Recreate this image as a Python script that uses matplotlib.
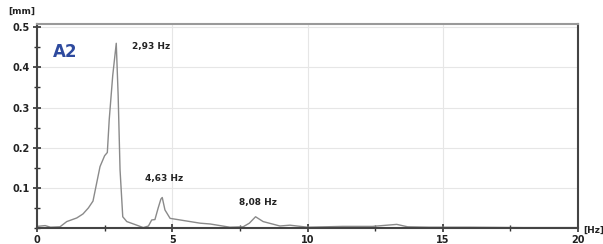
import matplotlib.pyplot as plt
from matplotlib.ticker import MultipleLocator

# spectrum (frequency in Hz, amplitude in mm)
freq = [0.0, 0.15, 0.3, 0.5, 0.85, 1.1, 1.47, 1.7, 1.9, 2.07, 2.2, 2.33, 2.5,
        2.6, 2.67, 2.8, 2.93, 3.0, 3.07, 3.17, 3.32, 3.69, 3.93, 4.12, 4.24,
        4.36, 4.48, 4.58, 4.63, 4.73, 4.92, 5.29, 6.03, 6.4, 7.13, 7.62, 7.85,
        8.08, 8.36, 8.98, 9.35, 10.0, 11.3, 12.4, 13.3, 13.7, 14.5, 16.0, 18.0,
        20.0]
amp = [0.004, 0.005, 0.006, 0.002, 0.003, 0.016, 0.025, 0.035, 0.05, 0.067,
       0.11, 0.153, 0.18, 0.188, 0.27, 0.38, 0.46, 0.33, 0.145, 0.028, 0.016,
       0.007, 0.001, 0.005, 0.02, 0.021, 0.05, 0.072, 0.076, 0.045, 0.024,
       0.02, 0.012, 0.010, 0.002, 0.003, 0.012, 0.028, 0.016, 0.005, 0.007,
       0.002, 0.004, 0.004, 0.009, 0.003, 0.002, 0.002, 0.001, 0.001]

peak_labels = ["2,93 Hz", "4,63 Hz", "8,08 Hz"]
peak_pos = [(3.5, 0.445), (4.0, 0.118), (7.45, 0.058)]

fig = plt.figure(figsize=(6.03, 2.44), dpi=100)
ax = fig.add_axes([37 / 603, (244 - 228) / 244, (578 - 37) / 603, (228 - 24) / 244])

ax.plot(freq, amp, color="#8a8a8a", lw=1.0)
ax.set_xlim(0, 20)
ax.set_ylim(0, 0.508)

ax.xaxis.set_minor_locator(MultipleLocator(2.5))
ax.yaxis.set_minor_locator(MultipleLocator(0.05))
ax.set_yticks([0.1, 0.2, 0.3, 0.4, 0.5])
ax.set_yticklabels(["0.1", "0.2", "0.3", "0.4", "0.5"])
ax.set_xticks([0, 5, 10, 15, 20])
ax.set_xticklabels(["0", "5", "10", "15", "20"])

for a in (ax.xaxis, ax.yaxis):
    a.set_tick_params(which="major", direction="inout", length=6, width=1.2,
                      color="#333333", labelsize=7, pad=2)
    a.set_tick_params(which="minor", direction="inout", length=4, width=1.0,
                      color="#333333")
for lab in ax.get_xticklabels() + ax.get_yticklabels():
    lab.set_fontweight("bold")
    lab.set_color("#222222")

ax.grid(True, which="major", color="#e6e6e6", lw=0.8)
ax.set_axisbelow(True)

for side in ("left", "bottom", "right"):
    ax.spines[side].set_color("#444444")
    ax.spines[side].set_linewidth(1.5)
ax.spines["top"].set_color("#999999")
ax.spines["top"].set_linewidth(1.5)

fig.text(8 / 603, 1 - 14 / 244, "[mm]", fontsize=6.5, fontweight="bold", color="#222222")
ax.text(20.2, -0.005, "[Hz]", fontsize=6.5, fontweight="bold",
        color="#222222", va="center", clip_on=False)
ax.text(0.6, 0.425, "A2", fontsize=12, fontweight="bold", color="#2e4a9e")
for lbl, (x, y) in zip(peak_labels, peak_pos):
    ax.text(x, y, lbl, fontsize=6.5, fontweight="bold", color="#222222")

fig.savefig("out.png", dpi=100)
